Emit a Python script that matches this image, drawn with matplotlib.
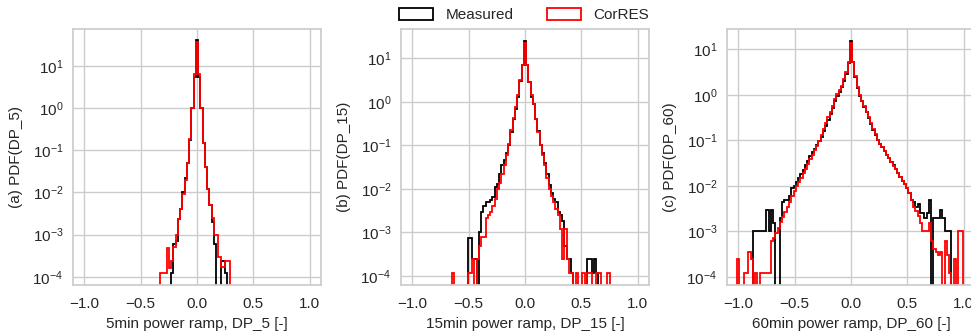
import numpy as np
import matplotlib
matplotlib.use("Agg")
import matplotlib.pyplot as plt
from matplotlib.patches import Patch

# bin edges (width 0.02, centred on multiples of 0.02)
edges_5 = np.linspace(-0.33, 0.33, 34)
edges_15 = np.linspace(-0.65, 0.75, 71)
edges_60 = np.linspace(-1.01, 1.01, 102)

# densities, one value per bin (left to right)
meas_5 = [0, 0, 0, 0, 0, 1.2e-4, 6e-4, 7e-4, 2.4e-3, 4e-3, 1e-2, 2.2e-2,
          5e-2, 0.17, 1.0, 5.5, 40, 5.5, 1.0, 0.15, 0.04, 0.012, 5e-3, 2e-3,
          6e-4, 0, 0, 2.4e-4, 2.4e-4, 1.2e-4, 0, 0, 0]
cor_5 = [1.2e-4, 1.2e-4, 1.2e-4, 4.8e-4, 1.6e-4, 2.4e-4, 5e-4, 1e-3, 2.4e-3,
         4e-3, 9e-3, 2e-2, 5e-2, 0.18, 1.0, 6.5, 36, 6.5, 1.0, 0.15, 0.04,
         0.012, 5e-3, 2.5e-3, 1e-3, 1e-3, 3e-4, 1.7e-4, 1.7e-4, 2.4e-4,
         2.4e-4, 0, 0]

meas_15 = [0, 0, 0, 0, 0, 0, 0, 7.5e-4, 7.5e-4, 2.4e-4, 2.4e-4, 0, 1e-3,
           3e-3, 4e-3, 5e-3, 5e-3, 5.5e-3, 6.5e-3, 1.1e-2, 1.3e-2, 2.2e-2,
           3.5e-2, 4.7e-2, 6.5e-2, 0.1, 0.2, 0.4, 0.7, 1.3, 3.0, 7.0, 25,
           7.0, 2.8, 1.3, 0.9, 0.4, 0.21, 0.1, 0.065, 0.04, 0.022, 0.012,
           8e-3, 6e-3, 5e-3, 3e-3, 2.5e-3, 1.8e-3, 5e-4, 2.4e-4, 2.4e-4,
           1.2e-4, 0, 0, 0, 0, 0, 0, 2.4e-4, 2.4e-4, 1.2e-4, 2.4e-4, 1.2e-4,
           0, 0, 0, 0, 0]
cor_15 = [1.2e-4, 0, 0, 0, 0, 0, 0, 1.2e-4, 1.2e-4, 2.4e-4, 0, 2.4e-4, 5e-4,
          8e-4, 8e-4, 2.2e-3, 2.5e-3, 3e-3, 4e-3, 6e-3, 1e-2, 1.4e-2,
          2.2e-2, 3.5e-2, 6e-2, 0.11, 0.22, 0.42, 0.75, 1.4, 3.2, 7.0, 22,
          7.0, 2.8, 1.4, 0.9, 0.4, 0.2, 0.1, 0.06, 0.035, 0.018, 0.01, 7e-3,
          5e-3, 3.5e-3, 2.5e-3, 1.2e-3, 2.4e-4, 1.2e-3, 2.4e-4, 1.2e-4,
          1.2e-4, 0, 1.2e-4, 0, 0, 1.2e-4, 0, 1.2e-4, 1.2e-4, 0, 0, 1.2e-4,
          1.2e-4, 0, 0, 0, 1.2e-4]

meas_60 = [0, 0, 0, 0, 0, 0, 0, 1e-3, 1e-3, 1e-3, 1e-3, 1e-3, 1e-3, 3e-3,
           1e-3, 3e-3, 1.5e-3, 0, 0, 2e-3, 4.5e-3, 5e-3, 5e-3, 6e-3, 9e-3,
           1e-2, 1.2e-2, 1.5e-2, 1.8e-2, 2.2e-2, 2.8e-2, 3.5e-2, 4.5e-2,
           5.5e-2, 6.5e-2, 8e-2, 9.5e-2, 0.12, 0.16, 0.21, 0.28, 0.38, 0.52,
           0.72, 0.95, 1.15, 1.45, 2.0, 2.9, 5.0, 15, 5.3, 2.5, 1.4, 0.95,
           0.72, 0.55, 0.42, 0.31, 0.23, 0.17, 0.13, 0.1, 0.085, 0.07, 0.058,
           0.048, 0.04, 0.034, 0.028, 0.023, 0.019, 0.016, 0.013, 0.011,
           9e-3, 7e-3, 5e-3, 4.5e-3, 3.5e-3, 4e-3, 2.5e-3, 2.5e-3, 2e-3,
           2.5e-3, 5e-3, 0, 2e-3, 2e-3, 2e-3, 3e-3, 2e-3, 1e-3, 1e-3, 1e-3,
           0, 0, 0, 0, 0, 0]
cor_60 = [2.4e-4, 0, 0, 1.2e-4, 1.2e-4, 3.5e-4, 2.4e-4, 0, 1.2e-4, 0, 1.2e-4,
          1.2e-4, 1.2e-4, 1.2e-4, 1.2e-4, 6e-4, 7e-4, 9e-4, 1.2e-3, 1.6e-3,
          2.1e-3, 2.7e-3, 3.5e-3, 4.5e-3, 6e-3, 7.7e-3, 9.7e-3, 1.2e-2,
          1.5e-2, 1.9e-2, 2.4e-2, 3e-2, 3.8e-2, 4.8e-2, 6e-2, 7.5e-2,
          9.5e-2, 0.13, 0.18, 0.24, 0.32, 0.43, 0.58, 0.8, 1.05, 1.25, 1.6,
          2.2, 3.2, 5.3, 14, 5.3, 2.6, 1.5, 1.0, 0.75, 0.57, 0.43, 0.32,
          0.24, 0.18, 0.135, 0.102, 0.085, 0.07, 0.058, 0.048, 0.04, 0.033,
          0.027, 0.023, 0.019, 0.016, 0.013, 0.011, 9e-3, 7e-3, 5e-3, 3.5e-3,
          2.8e-3, 2.2e-3, 1.5e-3, 1e-3, 1e-3, 1e-3, 1.5e-3, 6e-4, 4e-4,
          3.5e-4, 3e-4, 3.5e-4, 0, 6e-4, 3e-4, 1.2e-4, 0, 2.4e-4, 0, 1e-3,
          1e-3, 0]

panels = [
    (edges_5, meas_5, cor_5, "(a) PDF(DP_5)", "5min power ramp, DP_5 [-]", (6.4e-5, 74)),
    (edges_15, meas_15, cor_15, "(b) PDF(DP_15)", "15min power ramp, DP_15 [-]", (6.2e-5, 47)),
    (edges_60, meas_60, cor_60, "(c) PDF(DP_60)", "60min power ramp, DP_60 [-]", (6.6e-5, 28)),
]

plt.rcParams["font.family"] = ["Liberation Sans", "DejaVu Sans"]
plt.rcParams["mathtext.fontset"] = "custom"
plt.rcParams["mathtext.rm"] = "Liberation Sans"
plt.rcParams["mathtext.it"] = "Liberation Sans:italic"
plt.rcParams["mathtext.bf"] = "Liberation Sans:bold"
plt.rcParams["axes.edgecolor"] = "#cccccc"
plt.rcParams["axes.linewidth"] = 1.25
plt.rcParams["text.color"] = "#262626"
plt.rcParams["axes.labelcolor"] = "#262626"
plt.rcParams["xtick.color"] = "#262626"
plt.rcParams["ytick.color"] = "#262626"

fig = plt.figure(figsize=(9.71, 3.33), dpi=100)
lefts = [73, 401, 727]
for left, (edges, meas, cor, ylab, xlab, ylim) in zip(lefts, panels):
    ax = fig.add_axes([left / 971, 1 - 285 / 333, 248 / 971, 256 / 333])
    ax.set_axisbelow(True)
    ax.grid(True, color="#cccccc", linewidth=1.0)
    ax.stairs(meas, edges, color="black", linewidth=1.3)
    ax.stairs(cor, edges, color="red", linewidth=1.3)
    ax.set_yscale("log")
    ax.set_xlim(-1.1, 1.1)
    ax.set_ylim(*ylim)
    ax.set_xticks([-1.0, -0.5, 0.0, 0.5, 1.0])
    ax.set_yticks([1e-4, 1e-3, 1e-2, 1e-1, 1e0, 1e1])
    ax.minorticks_off()
    ax.tick_params(axis="both", length=0, labelsize=11)
    ax.tick_params(axis="x", pad=9)
    ax.tick_params(axis="y", pad=7)
    ax.set_xlabel(xlab, fontsize=11, labelpad=4)
    ax.set_ylabel(ylab, fontsize=11, labelpad=7)

handles = [Patch(facecolor="none", edgecolor="black", linewidth=1.3),
           Patch(facecolor="none", edgecolor="red", linewidth=1.3)]
fig.legend(handles, ["Measured", "CorRES"], loc="center", ncol=2,
           frameon=False, fontsize=11, handlelength=2.2, handleheight=0.9,
           columnspacing=2.2, bbox_to_anchor=(524 / 971, 1 - 15 / 333),
           bbox_transform=fig.transFigure)

fig.savefig("out.png", dpi=100)
